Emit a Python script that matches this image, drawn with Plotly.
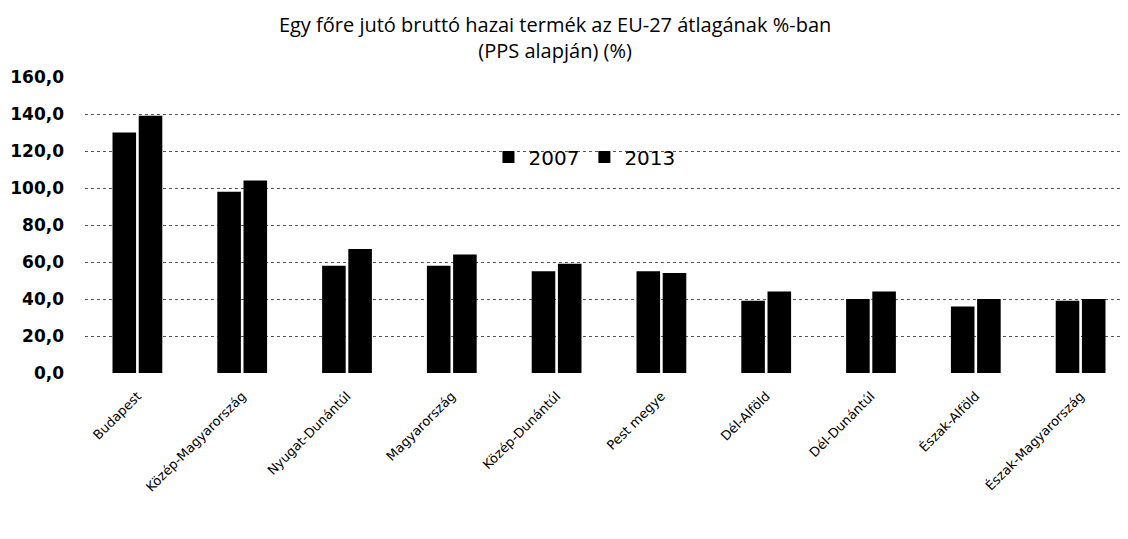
import plotly.graph_objects as go

categories = ["Budapest", "Közép-Magyarország", "Nyugat-Dunántúl", "Magyarország",
              "Közép-Dunántúl", "Pest megye", "Dél-Alföld", "Dél-Dunántúl",
              "Észak-Alföld", "Észak-Magyarország"]
values_2007 = [130, 98, 58, 58, 55, 55, 39, 40, 36, 39]
values_2013 = [139, 104, 67, 64, 59, 54, 44, 44, 40, 40]
series_names = ["2007", "2013"]
y_ticks = [0, 20, 40, 60, 80, 100, 120, 140, 160]
y_tick_labels = ["0,0", "20,0", "40,0", "60,0", "80,0", "100,0", "120,0", "140,0", "160,0"]
title_text = "Egy főre jutó bruttó hazai termék az EU-27 átlagának %-ban<br>(PPS alapján) (%)"

fig = go.Figure()
for name, vals in zip(series_names, [values_2007, values_2013]):
    fig.add_trace(go.Bar(name=name, x=categories, y=vals,
                         marker=dict(color="#000000", line=dict(width=0))))

fig.update_layout(
    width=1128, height=539,
    paper_bgcolor="white", plot_bgcolor="white",
    margin=dict(l=77, r=3, t=69, b=174),
    barmode="group", bargap=0.5, bargroupgap=0.1,
    title=dict(text=title_text, x=0.485, xanchor="center",
               yref="container", y=1 - 24 / 539, yanchor="middle",
               font=dict(family="Open Sans", size=20, color="#000000")),
    legend=dict(orientation="h", x=0.385, y=0.73, xanchor="left", yanchor="middle",
                font=dict(family="DejaVu Sans", size=20, color="#000000"),
                bgcolor="rgba(0,0,0,0)", itemwidth=30, traceorder="normal"),
    showlegend=True,
)
fig.update_yaxes(range=[0, 160], tickvals=y_ticks, ticktext=y_tick_labels,
                 showgrid=True, gridcolor="#555555", griddash="dot", gridwidth=1,
                 zeroline=False, showline=False, ticks="",
                 tickfont=dict(family="DejaVu Sans", size=17, color="#000000", weight="bold"),
                 ticklabelstandoff=20)
fig.update_xaxes(tickangle=-45, showline=False, ticks="", ticklabelstandoff=12,
                 tickfont=dict(family="DejaVu Sans", size=13, color="#000000"))

fig.write_html("out.html")
